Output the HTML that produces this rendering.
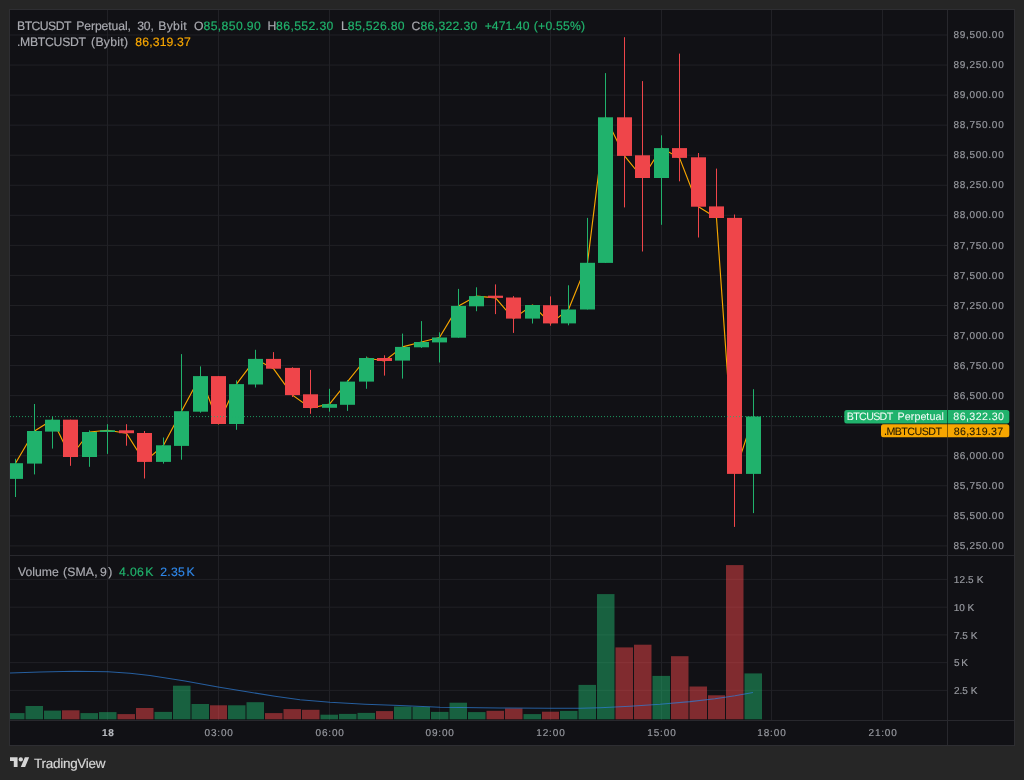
<!DOCTYPE html><html><head><meta charset="utf-8"><title>BTCUSDT Perpetual</title><style>
html,body{margin:0;padding:0;background:#262626;}
body{width:1024px;height:780px;position:relative;overflow:hidden;font-family:"Liberation Sans",sans-serif;}
#root{position:absolute;left:0;top:0;width:1024px;height:780px;will-change:transform;}
.t{position:absolute;white-space:nowrap;line-height:1;}
.lab{position:absolute;border-radius:2.5px;}

</style></head><body><div id="root">
<svg width="1024" height="780" viewBox="0 0 1024 780" style="position:absolute;left:0;top:0">
<rect x="9" y="9" width="1006" height="737" fill="#2e2e32"/>
<rect x="10" y="10" width="1004" height="735" fill="#111115"/>
<path d="M10 35.00H947.5 M10 65.05H947.5 M10 95.11H947.5 M10 125.16H947.5 M10 155.21H947.5 M10 185.27H947.5 M10 215.32H947.5 M10 245.37H947.5 M10 275.42H947.5 M10 305.48H947.5 M10 335.53H947.5 M10 365.58H947.5 M10 395.64H947.5 M10 425.69H947.5 M10 455.74H947.5 M10 485.80H947.5 M10 515.85H947.5 M10 545.90H947.5 M10 579.40H947.5 M10 607.15H947.5 M10 634.90H947.5 M10 662.65H947.5 M10 690.40H947.5 M107.5 10V720 M218.5 10V720 M329.5 10V720 M439.5 10V720 M550.5 10V720 M661.5 10V720 M771.5 10V720 M882.5 10V720" stroke="#212126" stroke-width="1" fill="none"/>
<path d="M10 555.5H1014 M10 720.5H1014 M947.5 10V745" stroke="#28282d" stroke-width="1" fill="none"/>
<rect x="10.00" y="713.1" width="14.50" height="6.2" fill="#20b26c" fill-opacity="0.5"/>
<rect x="25.50" y="706.0" width="17.50" height="13.3" fill="#20b26c" fill-opacity="0.5"/>
<rect x="44.00" y="710.6" width="17.00" height="8.7" fill="#20b26c" fill-opacity="0.5"/>
<rect x="62.00" y="710.3" width="17.50" height="9.0" fill="#ef454a" fill-opacity="0.5"/>
<rect x="80.50" y="713.1" width="17.50" height="6.2" fill="#20b26c" fill-opacity="0.5"/>
<rect x="99.00" y="712.1" width="17.50" height="7.2" fill="#20b26c" fill-opacity="0.5"/>
<rect x="117.50" y="714.1" width="17.50" height="5.2" fill="#ef454a" fill-opacity="0.5"/>
<rect x="136.00" y="708.0" width="17.50" height="11.3" fill="#ef454a" fill-opacity="0.5"/>
<rect x="154.50" y="711.9" width="17.50" height="7.4" fill="#20b26c" fill-opacity="0.5"/>
<rect x="173.00" y="685.7" width="17.50" height="33.6" fill="#20b26c" fill-opacity="0.5"/>
<rect x="191.50" y="704.0" width="17.50" height="15.3" fill="#20b26c" fill-opacity="0.5"/>
<rect x="210.00" y="705.3" width="17.00" height="14.0" fill="#ef454a" fill-opacity="0.5"/>
<rect x="228.00" y="705.3" width="17.50" height="14.0" fill="#20b26c" fill-opacity="0.5"/>
<rect x="246.50" y="702.2" width="17.50" height="17.1" fill="#20b26c" fill-opacity="0.5"/>
<rect x="265.00" y="713.1" width="17.50" height="6.2" fill="#ef454a" fill-opacity="0.5"/>
<rect x="283.50" y="709.1" width="17.50" height="10.2" fill="#ef454a" fill-opacity="0.5"/>
<rect x="302.00" y="709.8" width="17.50" height="9.5" fill="#ef454a" fill-opacity="0.5"/>
<rect x="320.50" y="714.7" width="17.50" height="4.6" fill="#20b26c" fill-opacity="0.5"/>
<rect x="339.00" y="713.9" width="17.50" height="5.4" fill="#20b26c" fill-opacity="0.5"/>
<rect x="357.50" y="712.9" width="17.50" height="6.4" fill="#20b26c" fill-opacity="0.5"/>
<rect x="376.00" y="711.1" width="17.00" height="8.2" fill="#ef454a" fill-opacity="0.5"/>
<rect x="394.00" y="706.5" width="17.50" height="12.8" fill="#20b26c" fill-opacity="0.5"/>
<rect x="412.50" y="706.8" width="17.50" height="12.5" fill="#20b26c" fill-opacity="0.5"/>
<rect x="431.00" y="711.9" width="17.50" height="7.4" fill="#20b26c" fill-opacity="0.5"/>
<rect x="449.50" y="702.7" width="17.50" height="16.6" fill="#20b26c" fill-opacity="0.5"/>
<rect x="468.00" y="712.1" width="17.50" height="7.2" fill="#20b26c" fill-opacity="0.5"/>
<rect x="486.50" y="710.8" width="17.50" height="8.5" fill="#ef454a" fill-opacity="0.5"/>
<rect x="505.00" y="708.4" width="17.50" height="10.9" fill="#ef454a" fill-opacity="0.5"/>
<rect x="523.50" y="714.1" width="17.50" height="5.2" fill="#20b26c" fill-opacity="0.5"/>
<rect x="542.00" y="711.7" width="17.00" height="7.6" fill="#ef454a" fill-opacity="0.5"/>
<rect x="560.00" y="710.9" width="17.50" height="8.4" fill="#20b26c" fill-opacity="0.5"/>
<rect x="578.50" y="684.9" width="17.50" height="34.4" fill="#20b26c" fill-opacity="0.5"/>
<rect x="597.00" y="594.1" width="17.50" height="125.2" fill="#20b26c" fill-opacity="0.5"/>
<rect x="615.50" y="647.4" width="17.50" height="71.9" fill="#ef454a" fill-opacity="0.5"/>
<rect x="634.00" y="644.7" width="17.50" height="74.6" fill="#ef454a" fill-opacity="0.5"/>
<rect x="652.50" y="675.9" width="17.50" height="43.4" fill="#20b26c" fill-opacity="0.5"/>
<rect x="671.00" y="656.2" width="17.50" height="63.1" fill="#ef454a" fill-opacity="0.5"/>
<rect x="689.50" y="686.5" width="17.50" height="32.8" fill="#ef454a" fill-opacity="0.5"/>
<rect x="708.00" y="695.3" width="17.00" height="24.0" fill="#ef454a" fill-opacity="0.5"/>
<rect x="726.00" y="565.1" width="17.50" height="154.2" fill="#ef454a" fill-opacity="0.5"/>
<rect x="744.50" y="673.4" width="17.50" height="45.9" fill="#20b26c" fill-opacity="0.5"/>
<polyline points="10,673 40,672 75,671.2 108,671.7 130,673.2 150,675.5 185,681 218,687 250,692.3 275,696.2 300,699.7 330,702.2 365,704.2 400,705.5 440,707.3 500,708 550,708.3 580,708.2 600,707.7 630,706.3 660,704.3 690,701.6 715,698.7 735,695.8 753,692.5" fill="none" stroke="#2f7fd8" stroke-opacity="0.7" stroke-width="1.1" stroke-linejoin="round"/>
<polyline points="15.5,463.2 34.5,431.0 52.5,419.7 70.5,457.0 89.5,432.0 107.5,430.3 126.5,433.2 144.5,461.9 163.5,445.3 181.5,411.2 200.5,376.1 218.5,424.0 236.5,384.1 255.5,358.9 273.5,368.7 292.5,395.1 310.5,408.0 329.5,404.1 347.5,381.6 366.5,358.0 384.5,361.0 402.5,346.9 421.5,342.0 439.5,337.5 458.5,305.9 476.5,296.1 495.5,297.9 513.5,318.6 532.5,305.0 550.5,323.4 568.5,309.5 587.5,262.8 605.5,117.3 624.5,155.9 642.5,178.0 661.5,148.1 679.5,157.9 698.5,206.7 716.5,218.0 734.5,473.9 753.5,416.5" fill="none" stroke="#f7a600" stroke-width="1.15" stroke-linejoin="round"/>
<rect x="15.00" y="458.8" width="1" height="38.2" fill="#20b26c"/>
<rect x="10" y="463.2" width="13" height="15.7" fill="#20b26c"/>
<rect x="34.00" y="404.0" width="1" height="70.4" fill="#20b26c"/>
<rect x="27" y="431.0" width="15" height="32.6" fill="#20b26c"/>
<rect x="52.00" y="416.4" width="1" height="32.2" fill="#20b26c"/>
<rect x="45" y="419.7" width="15" height="11.9" fill="#20b26c"/>
<rect x="70.00" y="419.7" width="1" height="46.1" fill="#ef454a"/>
<rect x="63" y="419.7" width="15" height="37.3" fill="#ef454a"/>
<rect x="89.00" y="430.4" width="1" height="36.4" fill="#20b26c"/>
<rect x="82" y="432.0" width="15" height="25.0" fill="#20b26c"/>
<rect x="107.00" y="424.2" width="1" height="29.7" fill="#20b26c"/>
<rect x="100" y="430.3" width="15" height="1.7" fill="#20b26c"/>
<rect x="126.00" y="424.2" width="1" height="21.5" fill="#ef454a"/>
<rect x="119" y="430.3" width="15" height="2.9" fill="#ef454a"/>
<rect x="144.00" y="431.0" width="1" height="47.5" fill="#ef454a"/>
<rect x="137" y="433.0" width="15" height="28.9" fill="#ef454a"/>
<rect x="163.00" y="437.5" width="1" height="26.1" fill="#20b26c"/>
<rect x="156" y="445.3" width="15" height="16.6" fill="#20b26c"/>
<rect x="181.00" y="354.1" width="1" height="105.6" fill="#20b26c"/>
<rect x="174" y="411.2" width="15" height="34.7" fill="#20b26c"/>
<rect x="200.00" y="366.4" width="1" height="46.3" fill="#20b26c"/>
<rect x="193" y="376.1" width="15" height="35.6" fill="#20b26c"/>
<rect x="218.00" y="376.1" width="1" height="47.9" fill="#ef454a"/>
<rect x="211" y="376.1" width="15" height="47.9" fill="#ef454a"/>
<rect x="236.00" y="380.4" width="1" height="49.4" fill="#20b26c"/>
<rect x="229" y="384.1" width="15" height="39.9" fill="#20b26c"/>
<rect x="255.00" y="349.8" width="1" height="37.7" fill="#20b26c"/>
<rect x="248" y="358.9" width="15" height="25.6" fill="#20b26c"/>
<rect x="273.00" y="352.1" width="1" height="16.6" fill="#ef454a"/>
<rect x="266" y="358.9" width="15" height="9.8" fill="#ef454a"/>
<rect x="292.00" y="367.3" width="1" height="29.7" fill="#ef454a"/>
<rect x="285" y="367.9" width="15" height="27.2" fill="#ef454a"/>
<rect x="310.00" y="369.9" width="1" height="43.9" fill="#ef454a"/>
<rect x="303" y="394.3" width="15" height="13.7" fill="#ef454a"/>
<rect x="329.00" y="388.8" width="1" height="22.9" fill="#20b26c"/>
<rect x="322" y="404.1" width="15" height="3.7" fill="#20b26c"/>
<rect x="347.00" y="380.0" width="1" height="30.9" fill="#20b26c"/>
<rect x="340" y="381.6" width="15" height="23.2" fill="#20b26c"/>
<rect x="366.00" y="356.5" width="1" height="32.3" fill="#20b26c"/>
<rect x="359" y="358.0" width="15" height="23.6" fill="#20b26c"/>
<rect x="384.00" y="355.3" width="1" height="20.3" fill="#ef454a"/>
<rect x="377" y="358.0" width="15" height="3.0" fill="#ef454a"/>
<rect x="402.00" y="333.6" width="1" height="45.0" fill="#20b26c"/>
<rect x="395" y="346.9" width="15" height="13.7" fill="#20b26c"/>
<rect x="421.00" y="321.1" width="1" height="26.8" fill="#20b26c"/>
<rect x="414" y="342.0" width="15" height="5.3" fill="#20b26c"/>
<rect x="439.00" y="332.3" width="1" height="30.2" fill="#20b26c"/>
<rect x="432" y="337.5" width="15" height="4.9" fill="#20b26c"/>
<rect x="458.00" y="288.9" width="1" height="48.8" fill="#20b26c"/>
<rect x="451" y="305.9" width="15" height="31.8" fill="#20b26c"/>
<rect x="476.00" y="287.3" width="1" height="23.9" fill="#20b26c"/>
<rect x="469" y="296.1" width="15" height="10.2" fill="#20b26c"/>
<rect x="495.00" y="284.4" width="1" height="29.7" fill="#ef454a"/>
<rect x="488" y="295.7" width="15" height="2.2" fill="#ef454a"/>
<rect x="513.00" y="296.1" width="1" height="36.8" fill="#ef454a"/>
<rect x="506" y="297.5" width="15" height="21.1" fill="#ef454a"/>
<rect x="532.00" y="305.0" width="1" height="18.5" fill="#20b26c"/>
<rect x="525" y="305.0" width="15" height="13.6" fill="#20b26c"/>
<rect x="550.00" y="296.4" width="1" height="29.3" fill="#ef454a"/>
<rect x="543" y="305.2" width="15" height="18.2" fill="#ef454a"/>
<rect x="568.00" y="285.3" width="1" height="40.0" fill="#20b26c"/>
<rect x="561" y="309.5" width="15" height="13.9" fill="#20b26c"/>
<rect x="587.00" y="217.9" width="1" height="91.6" fill="#20b26c"/>
<rect x="580" y="262.8" width="15" height="46.7" fill="#20b26c"/>
<rect x="605.00" y="73.1" width="1" height="189.8" fill="#20b26c"/>
<rect x="598" y="117.3" width="15" height="145.6" fill="#20b26c"/>
<rect x="624.00" y="37.2" width="1" height="170.2" fill="#ef454a"/>
<rect x="617" y="117.3" width="15" height="38.6" fill="#ef454a"/>
<rect x="642.00" y="81.1" width="1" height="170.4" fill="#ef454a"/>
<rect x="635" y="155.3" width="15" height="22.7" fill="#ef454a"/>
<rect x="661.00" y="135.3" width="1" height="89.5" fill="#20b26c"/>
<rect x="654" y="148.1" width="15" height="29.9" fill="#20b26c"/>
<rect x="679.00" y="53.6" width="1" height="127.7" fill="#ef454a"/>
<rect x="672" y="148.1" width="15" height="9.8" fill="#ef454a"/>
<rect x="698.00" y="153.0" width="1" height="84.5" fill="#ef454a"/>
<rect x="691" y="157.3" width="15" height="49.4" fill="#ef454a"/>
<rect x="716.00" y="168.6" width="1" height="49.4" fill="#ef454a"/>
<rect x="709" y="206.4" width="15" height="11.6" fill="#ef454a"/>
<rect x="734.00" y="214.5" width="1" height="312.4" fill="#ef454a"/>
<rect x="727" y="217.9" width="15" height="256.0" fill="#ef454a"/>
<rect x="753.00" y="389.2" width="1" height="123.9" fill="#20b26c"/>
<rect x="746" y="416.5" width="15" height="57.4" fill="#20b26c"/>
<path d="M10 416.6H947.5" stroke="#20b26c" stroke-opacity="0.85" stroke-width="1" stroke-dasharray="1 2" fill="none"/>
</svg>
<svg width="1024" height="780" viewBox="0 0 1024 780" style="position:absolute;left:0;top:0" font-family="Liberation Sans, sans-serif" text-rendering="geometricPrecision">
<text x="953.47" y="38.30" font-size="10" fill="#97999f" stroke="#97999f" stroke-width="0.18" letter-spacing="0.717">89,500.00</text>
<text x="953.47" y="68.33" font-size="10" fill="#97999f" stroke="#97999f" stroke-width="0.18" letter-spacing="0.717">89,250.00</text>
<text x="953.47" y="98.36" font-size="10" fill="#97999f" stroke="#97999f" stroke-width="0.18" letter-spacing="0.717">89,000.00</text>
<text x="953.47" y="128.39" font-size="10" fill="#97999f" stroke="#97999f" stroke-width="0.18" letter-spacing="0.717">88,750.00</text>
<text x="953.47" y="158.42" font-size="10" fill="#97999f" stroke="#97999f" stroke-width="0.18" letter-spacing="0.717">88,500.00</text>
<text x="953.47" y="188.45" font-size="10" fill="#97999f" stroke="#97999f" stroke-width="0.18" letter-spacing="0.717">88,250.00</text>
<text x="953.47" y="218.48" font-size="10" fill="#97999f" stroke="#97999f" stroke-width="0.18" letter-spacing="0.717">88,000.00</text>
<text x="953.47" y="248.51" font-size="10" fill="#97999f" stroke="#97999f" stroke-width="0.18" letter-spacing="0.717">87,750.00</text>
<text x="953.47" y="278.54" font-size="10" fill="#97999f" stroke="#97999f" stroke-width="0.18" letter-spacing="0.717">87,500.00</text>
<text x="953.47" y="308.57" font-size="10" fill="#97999f" stroke="#97999f" stroke-width="0.18" letter-spacing="0.717">87,250.00</text>
<text x="953.47" y="338.60" font-size="10" fill="#97999f" stroke="#97999f" stroke-width="0.18" letter-spacing="0.717">87,000.00</text>
<text x="953.47" y="368.63" font-size="10" fill="#97999f" stroke="#97999f" stroke-width="0.18" letter-spacing="0.717">86,750.00</text>
<text x="953.47" y="398.66" font-size="10" fill="#97999f" stroke="#97999f" stroke-width="0.18" letter-spacing="0.717">86,500.00</text>
<text x="953.47" y="458.72" font-size="10" fill="#97999f" stroke="#97999f" stroke-width="0.18" letter-spacing="0.717">86,000.00</text>
<text x="953.47" y="488.75" font-size="10" fill="#97999f" stroke="#97999f" stroke-width="0.18" letter-spacing="0.717">85,750.00</text>
<text x="953.47" y="518.78" font-size="10" fill="#97999f" stroke="#97999f" stroke-width="0.18" letter-spacing="0.717">85,500.00</text>
<text x="953.47" y="548.81" font-size="10" fill="#97999f" stroke="#97999f" stroke-width="0.18" letter-spacing="0.717">85,250.00</text>
<text x="953.64" y="583.20" font-size="10" fill="#97999f" stroke="#97999f" stroke-width="0.18" letter-spacing="0.193">12.5 K</text>
<text x="953.64" y="610.95" font-size="10" fill="#97999f" stroke="#97999f" stroke-width="0.18" letter-spacing="-0.032">10 K</text>
<text x="953.89" y="638.70" font-size="10" fill="#97999f" stroke="#97999f" stroke-width="0.18" letter-spacing="0.019">7.5 K</text>
<text x="954.00" y="666.45" font-size="10" fill="#97999f" stroke="#97999f" stroke-width="0.18" letter-spacing="-0.549">5 K</text>
<text x="953.90" y="694.20" font-size="10" fill="#97999f" stroke="#97999f" stroke-width="0.18" letter-spacing="0.016">2.5 K</text>
<text x="101.97" y="736.20" font-size="10" fill="#b6b8be" stroke="#b6b8be" stroke-width="0.18" letter-spacing="0.814" font-weight="bold">18</text>
<text x="204.61" y="736.20" font-size="10" fill="#97999f" stroke="#97999f" stroke-width="0.18" letter-spacing="0.789">03:00</text>
<text x="315.61" y="736.20" font-size="10" fill="#97999f" stroke="#97999f" stroke-width="0.18" letter-spacing="0.789">06:00</text>
<text x="425.61" y="736.20" font-size="10" fill="#97999f" stroke="#97999f" stroke-width="0.18" letter-spacing="0.789">09:00</text>
<text x="536.24" y="736.20" font-size="10" fill="#97999f" stroke="#97999f" stroke-width="0.18" letter-spacing="0.882">12:00</text>
<text x="647.24" y="736.20" font-size="10" fill="#97999f" stroke="#97999f" stroke-width="0.18" letter-spacing="0.882">15:00</text>
<text x="757.24" y="736.20" font-size="10" fill="#97999f" stroke="#97999f" stroke-width="0.18" letter-spacing="0.882">18:00</text>
<text x="868.50" y="736.20" font-size="10" fill="#97999f" stroke="#97999f" stroke-width="0.18" letter-spacing="0.817">21:00</text>
<text x="17.10" y="30.00" font-size="12.2" fill="#a9aab0" stroke="#a9aab0" stroke-width="0.18" letter-spacing="-0.538">BTCUSDT</text>
<text x="76.20" y="30.00" font-size="12.2" fill="#a9aab0" stroke="#a9aab0" stroke-width="0.18" letter-spacing="-0.091">Perpetual,</text>
<text x="137.29" y="30.00" font-size="12.2" fill="#a9aab0" stroke="#a9aab0" stroke-width="0.18" letter-spacing="-0.199">30,</text>
<text x="158.30" y="30.00" font-size="12.2" fill="#a9aab0" stroke="#a9aab0" stroke-width="0.18" letter-spacing="0.292">Bybit</text>
<text x="194.12" y="30.00" font-size="12.2" fill="#a9aab0" stroke="#a9aab0" stroke-width="0.18" letter-spacing="0.000">O</text>
<text x="203.57" y="30.00" font-size="12.2" fill="#20b26c" stroke="#20b26c" stroke-width="0.18" letter-spacing="0.367">85,850.90</text>
<text x="267.40" y="30.00" font-size="12.2" fill="#a9aab0" stroke="#a9aab0" stroke-width="0.18" letter-spacing="0.000">H</text>
<text x="276.07" y="30.00" font-size="12.2" fill="#20b26c" stroke="#20b26c" stroke-width="0.18" letter-spacing="0.379">86,552.30</text>
<text x="340.90" y="30.00" font-size="12.2" fill="#a9aab0" stroke="#a9aab0" stroke-width="0.18" letter-spacing="0.000">L</text>
<text x="347.87" y="30.00" font-size="12.2" fill="#20b26c" stroke="#20b26c" stroke-width="0.18" letter-spacing="0.304">85,526.80</text>
<text x="411.58" y="30.00" font-size="12.2" fill="#a9aab0" stroke="#a9aab0" stroke-width="0.18" letter-spacing="0.000">C</text>
<text x="420.47" y="30.00" font-size="12.2" fill="#20b26c" stroke="#20b26c" stroke-width="0.18" letter-spacing="0.329">86,322.30</text>
<text x="484.70" y="30.00" font-size="12.2" fill="#20b26c" stroke="#20b26c" stroke-width="0.18" letter-spacing="0.055">+471.40</text>
<text x="533.84" y="30.00" font-size="12.2" fill="#20b26c" stroke="#20b26c" stroke-width="0.18" letter-spacing="0.196">(+0.55%)</text>
<text x="16.99" y="46.40" font-size="12.2" fill="#a9aab0" stroke="#a9aab0" stroke-width="0.18" letter-spacing="-0.259">.MBTCUSDT</text>
<text x="91.04" y="46.40" font-size="12.2" fill="#a9aab0" stroke="#a9aab0" stroke-width="0.18" letter-spacing="0.311">(Bybit)</text>
<text x="135.37" y="46.40" font-size="12.2" fill="#f7a600" stroke="#f7a600" stroke-width="0.18" letter-spacing="0.152">86,319.37</text>
<text x="18.05" y="576.00" font-size="12.2" fill="#a9aab0" stroke="#a9aab0" stroke-width="0.18" letter-spacing="0.026">Volume</text>
<text x="62.94" y="576.00" font-size="12.2" fill="#a9aab0" stroke="#a9aab0" stroke-width="0.18" letter-spacing="0.191">(SMA,</text>
<text x="100.03" y="576.00" font-size="12.2" fill="#a9aab0" stroke="#a9aab0" stroke-width="0.18" letter-spacing="1.381">9)</text>
<text x="119.12" y="576.00" font-size="12.2" fill="#20b26c" stroke="#20b26c" stroke-width="0.18" letter-spacing="0.357">4.06</text>
<text x="145.20" y="576.00" font-size="12.2" fill="#20b26c" stroke="#20b26c" stroke-width="0.18" letter-spacing="0.000">K</text>
<text x="160.19" y="576.00" font-size="12.2" fill="#2f86e6" stroke="#2f86e6" stroke-width="0.18" letter-spacing="0.277">2.35</text>
<text x="186.40" y="576.00" font-size="12.2" fill="#2f86e6" stroke="#2f86e6" stroke-width="0.18" letter-spacing="0.000">K</text>
<rect x="844.3" y="410" width="165" height="13.5" rx="2.5" fill="#20b26c"/>
<rect x="881" y="424.3" width="128.3" height="13" rx="2.5" fill="#f7a600"/>
<rect x="947" y="410" width="1" height="27.3" fill="#000" fill-opacity=".45"/>
<g transform="translate(10 755.1) scale(0.54)"><path d="M14 22H7V11H0V4h14v18zM28 22h-8l7.5-18h8L28 22z" fill="#d6d6d6"/><circle cx="20" cy="8" r="4" fill="#d6d6d6"/></g>
<text x="846.82" y="420.30" font-size="10.7" fill="#f2fbf6" stroke="#f2fbf6" stroke-width="0.05" letter-spacing="-0.684">BTCUSDT</text>
<text x="897.62" y="420.30" font-size="10.7" fill="#f2fbf6" stroke="#f2fbf6" stroke-width="0.05" letter-spacing="0.049">Perpetual</text>
<text x="953.34" y="420.30" font-size="10.7" fill="#f2fbf6" stroke="#f2fbf6" stroke-width="0.05" letter-spacing="0.385">86,322.30</text>
<text x="884.02" y="434.60" font-size="10.7" fill="#1d1500" stroke="#1d1500" stroke-width="0.05" letter-spacing="-0.555">.MBTCUSDT</text>
<text x="953.84" y="434.60" font-size="10.7" fill="#1d1500" stroke="#1d1500" stroke-width="0.05" letter-spacing="0.213">86,319.37</text>
<text x="34.10" y="767.60" font-size="13.5" fill="#d6d6d6" stroke="#d6d6d6" stroke-width="0.18" letter-spacing="-0.286">TradingView</text>
</svg>
</div></body></html>
